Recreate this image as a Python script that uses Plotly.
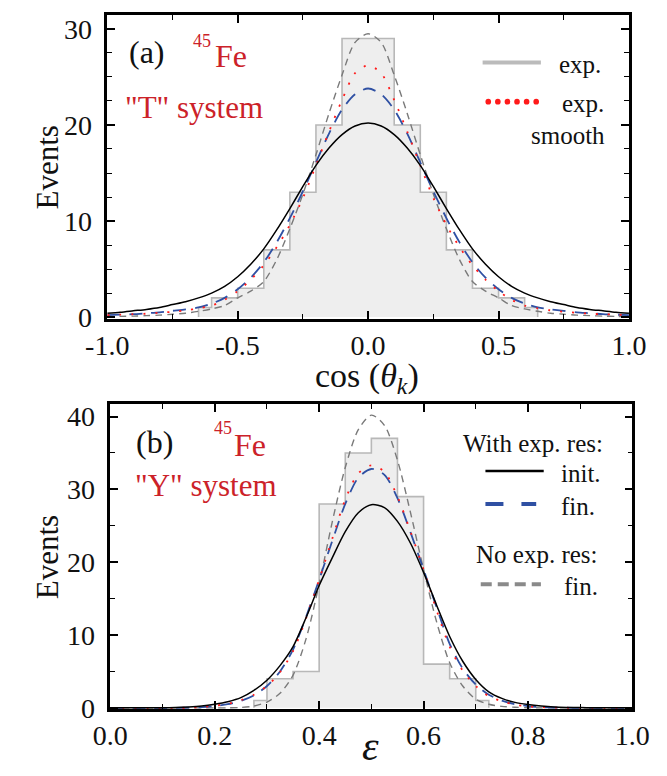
import plotly.graph_objects as go

# ---------------- Panel (a): cos(theta_k), "T" system ----------------
A_EDGES = [-0.65, -0.6, -0.5, -0.4, -0.3, -0.2, -0.1, 0.1, 0.2, 0.3, 0.4, 0.5, 0.6, 0.65]
A_COUNTS = [1, 2, 3, 7, 13, 20, 29, 20, 13, 7, 3, 2, 1]

A_X = [-1.0, -0.95, -0.9, -0.85, -0.8, -0.75, -0.7, -0.65, -0.6, -0.55, -0.5, -0.45, -0.4, -0.35,
       -0.3, -0.25, -0.2, -0.15, -0.1, -0.05, 0.0, 0.05, 0.1, 0.15, 0.2, 0.25, 0.3, 0.35, 0.4, 0.45,
       0.5, 0.55, 0.6, 0.65, 0.7, 0.75, 0.8, 0.85, 0.9, 0.95, 1.0]
A_INIT = [0.4, 0.5, 0.65, 0.8, 1.0, 1.3, 1.6, 2.0, 2.5, 3.2, 4.2, 5.5, 7.1, 9.1,
          11.3, 13.6, 15.8, 17.6, 19.0, 19.9, 20.2, 19.9, 19.0, 17.6, 15.8, 13.6, 11.3, 9.1, 7.1, 5.5,
          4.2, 3.2, 2.5, 2.0, 1.6, 1.3, 1.0, 0.8, 0.65, 0.5, 0.4]
A_FIN = [0.2, 0.25, 0.3, 0.4, 0.5, 0.65, 0.8, 1.0, 1.4, 2.0, 2.9, 4.1, 5.7, 7.8,
         10.3, 13.1, 16.1, 19.1, 21.6, 23.2, 23.8, 23.2, 21.6, 19.1, 16.1, 13.1, 10.3, 7.8, 5.7, 4.1,
         2.9, 2.0, 1.4, 1.0, 0.8, 0.65, 0.5, 0.4, 0.3, 0.25, 0.2]
A_SMOOTH = [0.2, 0.25, 0.3, 0.35, 0.45, 0.55, 0.7, 0.9, 1.2, 1.8, 2.7, 3.9, 5.4, 7.3,
            9.6, 12.4, 15.8, 19.3, 22.6, 25.4, 26.2, 25.4, 22.6, 19.3, 15.8, 12.4, 9.6, 7.3, 5.4, 3.9,
            2.7, 1.8, 1.2, 0.9, 0.7, 0.55, 0.45, 0.35, 0.3, 0.25, 0.2]
A_NORES = [0.05, 0.07, 0.1, 0.15, 0.2, 0.3, 0.4, 0.6, 0.85, 1.2, 2.0, 2.7, 3.7, 6.0,
           9.2, 12.8, 16.9, 21.2, 25.2, 28.6, 29.5, 28.6, 25.2, 21.2, 16.9, 12.8, 9.2, 6.0, 3.7, 2.7,
           2.0, 1.2, 0.85, 0.6, 0.4, 0.3, 0.2, 0.15, 0.1, 0.07, 0.05]
A_XTICKS = [-1.0, -0.5, 0.0, 0.5, 1.0]
A_XTEXT = ["-1.0", "-0.5", "0.0", "0.5", "1.0"]
A_YTICKS = [0, 10, 20, 30]

# ---------------- Panel (b): epsilon, "Y" system ----------------
B_EDGES = [0.275, 0.3, 0.35, 0.4, 0.45, 0.5, 0.55, 0.6, 0.65, 0.7, 0.725]
B_COUNTS = [1, 4, 5, 28, 35, 37, 29, 6, 4, 1]

B_X = [0.0, 0.025, 0.05, 0.075, 0.1, 0.125, 0.15, 0.175, 0.2, 0.225, 0.25, 0.275, 0.3, 0.325,
       0.35, 0.375, 0.4, 0.425, 0.45, 0.475, 0.5, 0.525, 0.55, 0.575, 0.6, 0.625, 0.65, 0.675,
       0.7, 0.725, 0.75, 0.775, 0.8, 0.825, 0.85, 0.875, 0.9, 0.925, 0.95, 0.975, 1.0]
B_INIT = [0.0, 0.0, 0.0, 0.0, 0.02, 0.05, 0.12, 0.25, 0.5, 0.85, 1.4, 2.4, 3.8, 5.8,
          8.4, 12.4, 16.8, 20.6, 24.2, 26.8, 27.9, 27.5, 25.6, 22.6, 18.6, 14.1, 9.8, 6.4,
          3.9, 2.2, 1.3, 0.75, 0.45, 0.25, 0.12, 0.06, 0.03, 0.01, 0.0, 0.0, 0.0]
B_FIN = [0.0, 0.0, 0.0, 0.0, 0.0, 0.0, 0.03, 0.1, 0.25, 0.5, 0.95, 1.7, 3.0, 5.0,
         8.0, 12.5, 17.6, 22.9, 28.0, 31.6, 32.8, 32.0, 28.8, 24.1, 19.0, 13.8, 8.8, 5.4,
         3.2, 1.8, 1.0, 0.5, 0.25, 0.1, 0.05, 0.02, 0.0, 0.0, 0.0, 0.0, 0.0]
B_SMOOTH = [0.0, 0.0, 0.0, 0.0, 0.0, 0.0, 0.03, 0.12, 0.3, 0.55, 1.05, 1.8, 3.0, 4.9,
            7.8, 12.3, 17.6, 23.2, 28.6, 32.2, 33.3, 32.4, 29.0, 24.2, 19.0, 13.4, 8.4, 5.1,
            3.0, 1.6, 0.9, 0.45, 0.2, 0.1, 0.04, 0.01, 0.0, 0.0, 0.0, 0.0, 0.0]
B_NORES = [0.0, 0.0, 0.0, 0.0, 0.0, 0.0, 0.0, 0.0, 0.0, 0.0, 0.05, 0.25, 0.8, 2.0,
           4.5, 9.5, 17.0, 25.5, 33.0, 38.2, 40.2, 38.8, 34.0, 26.8, 19.0, 11.8, 6.2, 3.0,
           1.2, 0.5, 0.2, 0.08, 0.02, 0.0, 0.0, 0.0, 0.0, 0.0, 0.0, 0.0, 0.0]
B_XTICKS = [0.0, 0.2, 0.4, 0.6, 0.8, 1.0]
B_XTEXT = ["0.0", "0.2", "0.4", "0.6", "0.8", "1.0"]
B_YTICKS = [0, 10, 20, 30, 40]

# ---------------- styles ----------------
W, H = 667, 776
FONT = "Liberation Serif"
RED_TXT = "#cc2229"
HIST_FILL = "#eeeeee"
HIST_LINE = "#b8b8b8"
C_INIT = "#000000"
C_FIN = "#2f50a3"
C_SMOOTH = "#ff1a1a"
C_NORES = "#7a7a7a"


def px(x):
    return x / W


def py(y):
    return 1 - y / H


def step_xy(edges, counts):
    xs, ys = [edges[0]], [0]
    for i, c in enumerate(counts):
        xs += [edges[i], edges[i + 1]]
        ys += [c, c]
    xs.append(edges[-1])
    ys.append(0)
    return xs, ys


fig = go.Figure()


def add_panel(xa, ya, edges, counts, X, init, fin, smooth, nores):
    hx, hy = step_xy(edges, counts)
    fig.add_trace(go.Scatter(x=hx, y=hy, mode="lines", fill="tozeroy", fillcolor=HIST_FILL,
                             line=dict(color=HIST_LINE, width=1.6), xaxis=xa, yaxis=ya,
                             showlegend=False, hoverinfo="skip"))
    fig.add_trace(go.Scatter(x=X, y=nores, mode="lines",
                             line=dict(color=C_NORES, width=1.4, dash="7px,5px", shape="spline", smoothing=0.8),
                             xaxis=xa, yaxis=ya, showlegend=False))
    fig.add_trace(go.Scatter(x=X, y=fin, mode="lines",
                             line=dict(color=C_FIN, width=1.8, dash="13px,9px", shape="spline", smoothing=0.8),
                             xaxis=xa, yaxis=ya, showlegend=False))
    fig.add_trace(go.Scatter(x=X, y=smooth, mode="lines",
                             line=dict(color=C_SMOOTH, width=1.8, dash="2px,10px", shape="spline", smoothing=0.8),
                             xaxis=xa, yaxis=ya, showlegend=False))
    fig.add_trace(go.Scatter(x=X, y=init, mode="lines",
                             line=dict(color=C_INIT, width=1.5, shape="spline", smoothing=0.8),
                             xaxis=xa, yaxis=ya, showlegend=False))


add_panel("x", "y", A_EDGES, A_COUNTS, A_X, A_INIT, A_FIN, A_SMOOTH, A_NORES)
add_panel("x2", "y2", B_EDGES, B_COUNTS, B_X, B_INIT, B_FIN, B_SMOOTH, B_NORES)

axis_common = dict(showline=True, linecolor="black", linewidth=2.5, mirror="ticks", ticks="inside",
                   ticklen=8, tickwidth=1.5, tickcolor="black", showgrid=False, zeroline=False,
                   tickfont=dict(family=FONT, size=28, color="#111"))
minor_common = dict(ticks="inside", ticklen=5, tickwidth=1.3, tickcolor="black")

fig.update_layout(
    width=W, height=H, margin=dict(l=0, r=0, t=0, b=0),
    paper_bgcolor="white", plot_bgcolor="white", showlegend=False,
    font=dict(family=FONT, color="#111"),
    xaxis=dict(domain=[px(90.7), px(645.7)], anchor="y", range=[-1, 1], tickmode="array",
               tickvals=A_XTICKS, ticktext=A_XTEXT, minor=dict(dtick=0.25, tick0=-1, **minor_common),
               ticklabelstandoff=0, **axis_common),
    yaxis=dict(domain=[py(323.3), py(12.3)], anchor="x", range=[-0.18, 31.45], tickmode="array",
               tickvals=A_YTICKS, minor=dict(dtick=2.5, tick0=0, **minor_common),
               ticklabelstandoff=7, **axis_common),
    xaxis2=dict(domain=[px(94), px(649.3)], anchor="y2", range=[0, 1], tickmode="array",
                tickvals=B_XTICKS, ticktext=B_XTEXT, minor=dict(dtick=0.1, tick0=0, **minor_common),
                ticklabelstandoff=0, **axis_common),
    yaxis2=dict(domain=[py(722.7), py(410.7)], anchor="x2", range=[-0.15, 41.7], tickmode="array",
                tickvals=B_YTICKS, minor=dict(dtick=5, tick0=0, **minor_common),
                ticklabelstandoff=7, **axis_common),
)

ann = []


def text(x, y, s, size, color="#111", xanchor="center", angle=0):
    ann.append(dict(x=px(x), y=py(y), xref="paper", yref="paper", text=s, showarrow=False,
                    xanchor=xanchor, yanchor="middle", textangle=angle,
                    font=dict(family=FONT, size=size, color=color)))


# axis titles
text(27, 168, "Events", 31, angle=-90)
text(27, 567, "Events", 31, angle=-90)
text(367, 384, "cos (<i>θ</i><sub><i>k</i></sub>)", 34)
text(371, 761, "<i>ε</i>", 42)

# panel (a) labels
text(133, 50, "(a)", 32)
text(192, 39, "45", 18, RED_TXT)
text(222, 54, "Fe", 32, RED_TXT)
text(183, 107, "\"T\" system", 31, RED_TXT)
# panel (a) legend
text(594, 63, "exp.", 25)
text(597, 103, "exp.", 25)
text(581, 136, "smooth", 25)

# panel (b) labels
text(141, 449, "(b)", 32)
text(214, 435, "45", 18, RED_TXT)
text(243, 453, "Fe", 32, RED_TXT)
text(196, 494, "\"Y\" system", 31, RED_TXT)
# panel (b) legend
text(544, 451, "With exp. res:", 25)
text(595, 482, "init.", 25)
text(592, 515, "fin.", 25)
text(548, 565, "No exp. res:", 25)
text(595, 597, "fin.", 25)

fig.update_layout(annotations=ann)

shapes = []


def hline(x0, x1, y, color, width, dash="solid"):
    shapes.append(dict(type="line", xref="paper", yref="paper", x0=px(x0), x1=px(x1), y0=py(y), y1=py(y),
                       line=dict(color=color, width=width, dash=dash)))


hline(490, 552, 61, "#bbbbbb", 4)
for i in range(6):
    cx = 496 + i * 10.2
    shapes.append(dict(type="circle", xref="paper", yref="paper", x0=px(cx - 3), x1=px(cx + 3),
                       y0=py(101 + 3), y1=py(101 - 3), fillcolor="#ff1a1a", line=dict(width=0)))
hline(493, 555, 479, "#000000", 2.5)
hline(493, 547, 513, C_FIN, 4, "18px,18px")
hline(488, 552, 595, "#8a8a8a", 4, "11px,6px")

fig.update_layout(shapes=shapes)

fig.write_html("out.html")
